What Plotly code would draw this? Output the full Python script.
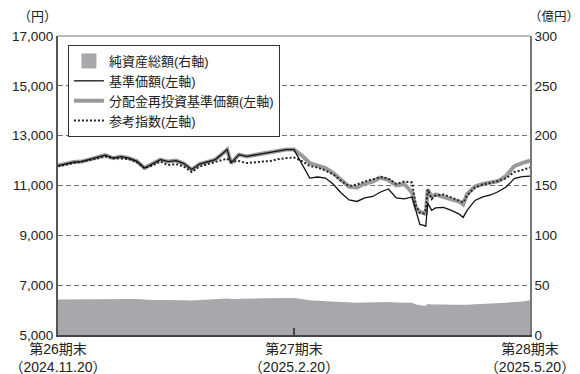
import plotly.graph_objects as go

# business-day index (0 = 2024.11.20, 60 = 2025.2.20, 120 = 2025.5.20)
idx = [0, 2, 4, 6, 8, 10, 12, 14, 16, 18, 20, 22, 24, 26, 28, 30, 32, 34, 36, 38,
       40, 42, 43, 44, 46, 48, 50, 52, 54, 56, 58, 60, 62, 64, 66, 68, 70, 72, 74,
       76, 78, 80, 82, 84, 86, 88, 90, 91, 92, 93, 93.5, 94, 95, 96, 98, 100, 102,
       103, 104, 106, 108, 110, 112, 114, 116, 118, 120]

# 基準価額 (円)
nav = [11800, 11880, 11940, 11960, 12040, 12120, 12220, 12100, 12160, 12100,
       11980, 11700, 11860, 12040, 11960, 12000, 11880, 11640, 11860, 11940,
       12040, 12300, 12440, 11900, 12240, 12170, 12220, 12260, 12340, 12360,
       12440, 12440, 11850, 11300, 11340, 11300, 11050, 10700, 10420, 10360,
       10500, 10560, 10740, 10860, 10500, 10460, 10540, 10000, 9440, 9400,
       9360, 10300, 10000, 10100, 10120, 10000, 9850, 9720, 10000, 10400,
       10540, 10620, 10760, 10950, 11280, 11360, 11380]

# 分配金再投資基準価額 (円)
nav_reinv = [11800, 11880, 11940, 11960, 12040, 12120, 12220, 12100, 12160, 12100,
             11980, 11700, 11860, 12040, 11960, 12000, 11880, 11640, 11860, 11940,
             12040, 12300, 12440, 11900, 12240, 12170, 12220, 12260, 12340, 12360,
             12440, 12440, 12200, 11900, 11780, 11700, 11500, 11200, 10950, 10920,
             11080, 11160, 11320, 11220, 11000, 11060, 10720, 10100, 9940, 9900,
             9840, 10840, 10560, 10640, 10560, 10440, 10350, 10240, 10650, 10960,
             11060, 11140, 11180, 11400, 11780, 11900, 12000]

# 参考指数 (円換算)
ref_index = [11780, 11840, 11900, 11940, 12000, 12080, 12160, 12100, 12080, 12060,
             11940, 11700, 11800, 11960, 11820, 11860, 11760, 11540, 11760, 11860,
             11960, 12060, 12080, 11960, 11980, 11900, 11940, 11960, 11980, 12060,
             12100, 12120, 11980, 11780, 11720, 11600, 11440, 11180, 10980, 11040,
             11160, 11240, 11340, 11280, 11060, 11160, 11120, 10200, 9900, 9880,
             10040, 10840, 10460, 10600, 10640, 10520, 10380, 10320, 10600, 10920,
             11040, 11120, 11180, 11300, 11540, 11620, 11720]

# 純資産総額 (億円)
net_assets = [35.5, 35.6, 35.8, 36.0, 36.2, 36.4, 36.6, 36.5, 36.3, 36.2,
              36.0, 35.2, 35.0, 35.2, 35.3, 35.0, 34.8, 34.5, 34.9, 35.4,
              35.8, 36.4, 36.6, 36.0, 36.4, 36.5, 36.6, 36.8, 36.9, 37.0,
              37.2, 37.0, 36.0, 34.8, 34.4, 34.0, 33.4, 33.0, 32.6, 32.3,
              32.6, 32.9, 33.2, 33.0, 32.5, 32.6, 32.4, 30.5, 29.6, 29.4,
              29.4, 31.2, 30.6, 30.8, 30.6, 30.3, 30.0, 29.8, 30.3, 30.9,
              31.2, 31.6, 32.0, 32.4, 33.2, 33.6, 34.8]

x_tickvals = [0, 60, 120]
x_ticktext = ["第26期末<br>（2024.11.20）", "第27期末<br>（2025.2.20）", "第28期末<br>（2025.5.20）"]
yen_ticks = [5000, 7000, 9000, 11000, 13000, 15000, 17000]
oku_ticks = [0, 50, 100, 150, 200, 250, 300]

FONT = "Liberation Sans, Noto Sans CJK JP, sans-serif"
AREA = "#a7a8ac"

fig = go.Figure()

# area on primary (right, 億円) axis so lines overlay it
fig.add_trace(go.Scatter(x=idx, y=net_assets, mode="lines", fill="tozeroy",
                         fillcolor=AREA, line=dict(width=0, color=AREA),
                         showlegend=False, yaxis="y", hoverinfo="skip"))
fig.add_trace(go.Scatter(x=[None], y=[None], mode="markers", name="純資産総額(右軸)",
                         marker=dict(symbol="square", size=15, color=AREA),
                         legendrank=1, yaxis="y"))
fig.add_trace(go.Scatter(x=idx, y=nav_reinv, mode="lines", name="分配金再投資基準価額(左軸)",
                         line=dict(color="#9a9a9c", width=4), legendrank=3, yaxis="y2"))
fig.add_trace(go.Scatter(x=idx, y=ref_index, mode="lines", name="参考指数(左軸)",
                         line=dict(color="#222222", width=2, dash="2px,2px"),
                         legendrank=4, yaxis="y2"))
fig.add_trace(go.Scatter(x=idx, y=nav, mode="lines", name="基準価額(左軸)",
                         line=dict(color="#111111", width=1.3), legendrank=2, yaxis="y2"))

fig.update_layout(
    width=580, height=374,
    margin=dict(l=58, r=50, t=36, b=39),
    paper_bgcolor="white", plot_bgcolor="white",
    font=dict(family=FONT, size=13, color="#222222"),
    showlegend=True,
    legend=dict(x=0.021, y=0.97, xanchor="left", yanchor="top",
                bgcolor="white", bordercolor="#333333", borderwidth=1,
                font=dict(family=FONT, size=13, color="#222222"),
                itemwidth=30, tracegroupgap=0),
    xaxis=dict(range=[0, 120], tickmode="array", tickvals=x_tickvals, ticktext=x_ticktext,
               ticks="inside", ticklen=7, tickcolor="#444444", tickwidth=1.5,
               showgrid=False, zeroline=False, showline=True, linecolor="#444444",
               linewidth=2, mirror=False, automargin=False, ticklabelstandoff=0,
               tickfont=dict(size=14, color="#222222")),
    yaxis=dict(range=[0, 300], side="right", tickmode="array", tickvals=oku_ticks,
               ticktext=[str(v) for v in oku_ticks], automargin=False,
               showgrid=True, gridcolor="#707070", griddash="5px,3px", gridwidth=1,
               zeroline=False, showline=True, linecolor="#777777", linewidth=1.5,
               ticks="", tickfont=dict(size=13.5, color="#222222")),
    yaxis2=dict(range=[5000, 17000], side="left", overlaying="y", tickmode="array",
                tickvals=yen_ticks, ticktext=[f"{v:,}" for v in yen_ticks], automargin=False,
                showgrid=False, zeroline=False, showline=True, linecolor="#555555",
                linewidth=2, ticks="", tickfont=dict(size=13.5, color="#222222")),
    shapes=[dict(type="line", xref="paper", yref="paper", x0=0, x1=1, y0=1, y1=1,
                 line=dict(color="#777777", width=1.2))],
    annotations=[
        dict(text="（円）", xref="paper", yref="paper", x=-0.044, y=1.065,
             xanchor="center", yanchor="middle", showarrow=False,
             font=dict(family=FONT, size=13, color="#222222")),
        dict(text="（億円）", xref="paper", yref="paper", x=0.994, y=1.065,
             xanchor="left", yanchor="middle", showarrow=False,
             font=dict(family=FONT, size=12.5, color="#222222")),
    ],
)

fig.write_html("out.html")
